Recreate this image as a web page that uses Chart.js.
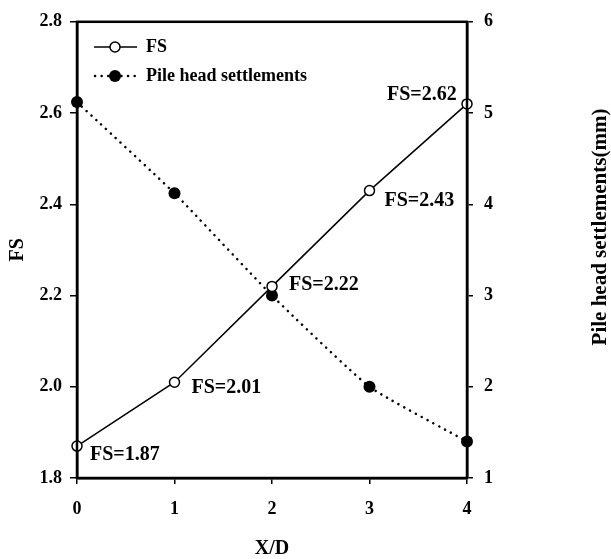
<!DOCTYPE html>
<html>
<head>
<meta charset="utf-8">
<script src="https://cdn.jsdelivr.net/npm/chart.js@4.4.0/dist/chart.umd.min.js"></script>
<style>
  html, body { margin: 0; padding: 0; background: #fff; }
  #wrap { width: 611px; height: 559px; }
</style>
</head>
<body>
<div id="wrap"><canvas id="myChart"></canvas></div>
<script>
const xValues = [0, 1, 2, 3, 4];
const fsValues = [1.87, 2.01, 2.22, 2.43, 2.62];
const settlementValues = [5.12, 4.12, 3.0, 2.0, 1.4];
const fsLabels = ["FS=1.87", "FS=2.01", "FS=2.22", "FS=2.43", "FS=2.62"];

const serif = "'Liberation Serif', 'Times New Roman', serif";

// offsets of the FS=... labels from their points (left x, centre y)
const labelOffsets = [[13, 9], [17, 6], [17, -2], [15, 10], [-80, -9]];

const extras = {
  id: "extras",
  afterDraw(chart) {
    const ctx = chart.ctx;
    const area = chart.chartArea;
    const x = chart.scales.x;
    const y = chart.scales.y;
    ctx.save();
    // frame
    ctx.strokeStyle = "#000";
    ctx.lineWidth = 2.5;
    ctx.strokeRect(area.left, area.top, area.right - area.left, area.bottom - area.top);

    // FS labels
    ctx.fillStyle = "#000";
    ctx.font = "bold 20px " + serif;
    ctx.textBaseline = "middle";
    ctx.textAlign = "left";
    fsValues.forEach((v, i) => {
      const px = x.getPixelForValue(xValues[i]);
      const py = y.getPixelForValue(v);
      ctx.fillText(fsLabels[i], px + labelOffsets[i][0], py + labelOffsets[i][1]);
    });

    // legend
    ctx.font = "bold 18px " + serif;
    ctx.lineWidth = 1.5;
    ctx.beginPath();
    ctx.moveTo(94, 47); ctx.lineTo(137, 47);
    ctx.stroke();
    ctx.beginPath();
    ctx.arc(115, 47, 5, 0, Math.PI * 2);
    ctx.fillStyle = "#fff"; ctx.fill();
    ctx.stroke();
    ctx.fillStyle = "#000";
    ctx.fillText("FS", 146, 47);

    ctx.lineWidth = 2.5;
    ctx.lineCap = "round";
    ctx.setLineDash([0.1, 6.5]);
    ctx.beginPath();
    ctx.moveTo(95, 76); ctx.lineTo(137, 76);
    ctx.stroke();
    ctx.setLineDash([]);
    ctx.beginPath();
    ctx.arc(115, 76, 6, 0, Math.PI * 2);
    ctx.fill();
    ctx.fillText("Pile head settlements", 146, 76);

    // right axis title, reading bottom to top
    ctx.font = "bold 21px " + serif;
    ctx.textAlign = "center";
    ctx.translate(601, 227);
    ctx.rotate(-Math.PI / 2);
    ctx.fillText("Pile head settlements(mm)", 0, 0);
    ctx.restore();
  }
};

const tickFont = { family: serif, size: 18, weight: "bold" };
const titleFont = { family: serif, size: 20, weight: "bold" };

const config = {
  type: "line",
  data: {
    labels: xValues,
    datasets: [
      {
        label: "FS",
        data: xValues.map((v, i) => ({ x: v, y: fsValues[i] })),
        yAxisID: "y",
        borderColor: "#000",
        borderWidth: 1.5,
        pointRadius: 5,
        pointBorderWidth: 1.5,
        pointBackgroundColor: "#fff",
        pointBorderColor: "#000",
        tension: 0,
        clip: false
      },
      {
        label: "Pile head settlements",
        data: xValues.map((v, i) => ({ x: v, y: settlementValues[i] })),
        yAxisID: "y1",
        borderColor: "#000",
        borderWidth: 2.5,
        borderDash: [0.1, 6.5],
        borderCapStyle: "round",
        pointRadius: 6,
        pointBorderWidth: 0,
        pointBackgroundColor: "#000",
        tension: 0.15,
        clip: false
      }
    ]
  },
  options: {
    responsive: true,
    maintainAspectRatio: false,
    animation: false,
    layout: { padding: { top: 21, left: 0, right: 0, bottom: 0 } },
    plugins: { legend: { display: false }, tooltip: { enabled: false } },
    scales: {
      x: {
        type: "linear",
        min: 0, max: 4,
        ticks: { stepSize: 1, color: "#000", font: tickFont, padding: 15 },
        grid: { drawOnChartArea: false, tickLength: 6, color: "#000", lineWidth: 1.5 },
        border: { color: "#000", width: 2.5 },
        title: { display: true, text: "X/D", color: "#000", font: titleFont, padding: { top: 0, bottom: -2 } },
        afterFit(s) { s.height = 81; }
      },
      y: {
        position: "left",
        min: 1.8, max: 2.8,
        ticks: { stepSize: 0.2, color: "#000", font: tickFont, padding: 8, callback: v => v.toFixed(1) },
        grid: { drawOnChartArea: false, tickLength: 7, color: "#000", lineWidth: 1.5 },
        border: { color: "#000", width: 2.5 },
        title: { display: true, text: "FS", color: "#000", font: titleFont, padding: { top: 6, bottom: 0 } },
        afterFit(s) { s.width = 77; }
      },
      y1: {
        position: "right",
        min: 1, max: 6,
        ticks: { stepSize: 1, color: "#000", font: tickFont, padding: 11 },
        grid: { drawOnChartArea: false, tickLength: 6, color: "#000", lineWidth: 1.5 },
        border: { color: "#000", width: 2.5 },
        afterFit(s) { s.width = 144; }
      }
    }
  },
  plugins: [extras]
};

const myChart = document.getElementById("myChart");
myChart.chart = new Chart(myChart, config);
</script>
</body>
</html>
